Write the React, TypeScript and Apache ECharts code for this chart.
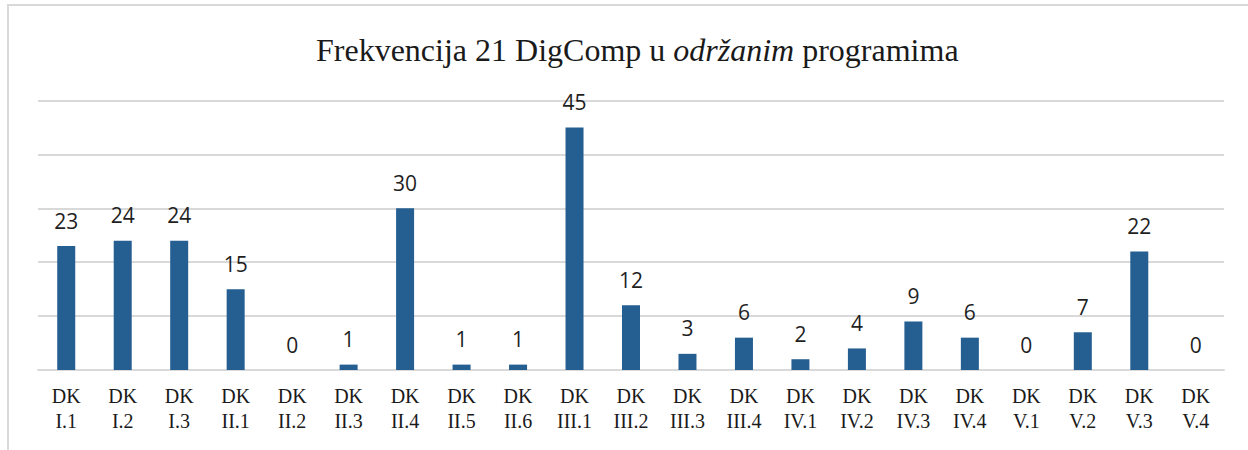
import React, { useEffect, useRef } from "react";
import * as echarts from "echarts";

const categories = [
  "DK\nI.1", "DK\nI.2", "DK\nI.3",
  "DK\nII.1", "DK\nII.2", "DK\nII.3", "DK\nII.4", "DK\nII.5", "DK\nII.6",
  "DK\nIII.1", "DK\nIII.2", "DK\nIII.3", "DK\nIII.4",
  "DK\nIV.1", "DK\nIV.2", "DK\nIV.3", "DK\nIV.4",
  "DK\nV.1", "DK\nV.2", "DK\nV.3", "DK\nV.4",
];
const frequencies = [23, 24, 24, 15, 0, 1, 30, 1, 1, 45, 12, 3, 6, 2, 4, 9, 6, 0, 7, 22, 0];
const titleParts = ["Frekvencija 21 DigComp u ", "održanim", " programima"];

export default function App() {
  const ref = useRef<HTMLDivElement>(null);
  useEffect(() => {
    document.body.style.margin = "0";
    const chart = echarts.init(ref.current!, null, { renderer: "svg" });
    chart.setOption({
      animation: false,
      backgroundColor: "#ffffff",
      title: {
        text: `{a|${titleParts[0]}}{b|${titleParts[1]}}{a|${titleParts[2]}}`,
        left: 311,
        top: 29,
        textStyle: {
          fontWeight: "normal",
          rich: {
            a: { fontFamily: "Liberation Serif", fontSize: 32, fontWeight: "normal", color: "#1a1a1a" },
            b: { fontFamily: "Liberation Serif", fontSize: 32, fontWeight: "normal", fontStyle: "italic", color: "#1a1a1a" },
          },
        },
      },
      graphic: [
        {
          type: "rect",
          shape: { x: 8, y: 5, width: 1400, height: 600 },
          style: { fill: "none", stroke: "#d9d9d9", lineWidth: 2 },
          silent: true,
        },
      ],
      grid: { left: 38, right: 24, top: 100.5, bottom: 80, containLabel: false },
      xAxis: {
        type: "category",
        data: categories,
        axisLine: { show: true, lineStyle: { color: "#d9d9d9", width: 2 } },
        axisTick: { show: false },
        axisLabel: {
          interval: 0,
          margin: 13,
          fontFamily: "Liberation Serif",
          fontSize: 20,
          lineHeight: 25,
          color: "#1a1a1a",
        },
      },
      yAxis: {
        type: "value",
        min: 0,
        max: 50,
        interval: 10,
        axisLabel: { show: false },
        axisLine: { show: false },
        axisTick: { show: false },
        splitLine: { lineStyle: { color: "#d9d9d9", width: 2 } },
      },
      series: [
        {
          type: "bar",
          data: frequencies,
          barWidth: 18,
          itemStyle: { color: "#255e91" },
          label: {
            show: true,
            position: "top",
            distance: 15,
            fontFamily: "Open Sans",
            fontSize: 21,
            color: "#1f1f1f",
          },
        },
      ],
    });
    return () => chart.dispose();
  }, []);
  return <div ref={ref} style={{ width: 1248, height: 450 }} />;
}
